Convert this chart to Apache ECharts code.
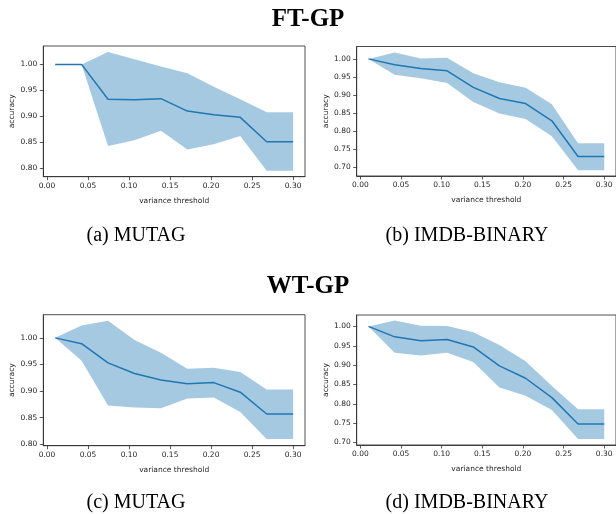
<!DOCTYPE html>
<html>
<head>
<meta charset="utf-8">
<script src="https://cdn.jsdelivr.net/npm/echarts@6/dist/echarts.min.js"></script>
<style>
html,body{margin:0;padding:0;background:#fff;}
#chart{width:616px;height:514px;}
</style>
</head>
<body>
<div id="chart"></div>
<script>
// ---- data ----
var xVals = [0.01, 0.0422, 0.0744, 0.1067, 0.1389, 0.1711, 0.2033, 0.2356, 0.2678, 0.30];
var xTicks = [0.00, 0.05, 0.10, 0.15, 0.20, 0.25, 0.30];

var aMean  = [1.0, 1.0, 0.933, 0.932, 0.934, 0.910, 0.903, 0.898, 0.851, 0.851];
var aUpper = [1.0, 1.0, 1.024, 1.010, 0.996, 0.983, 0.957, 0.933, 0.908, 0.908];
var aLower = [1.0, 1.0, 0.843, 0.854, 0.872, 0.836, 0.846, 0.862, 0.795, 0.795];
var aTicks = [0.80, 0.85, 0.90, 0.95, 1.00];

var bMean  = [1.0, 0.984, 0.973, 0.967, 0.921, 0.890, 0.876, 0.828, 0.729, 0.729];
var bUpper = [1.0, 1.018, 1.001, 1.003, 0.960, 0.935, 0.920, 0.874, 0.766, 0.766];
var bLower = [1.0, 0.956, 0.946, 0.933, 0.880, 0.848, 0.833, 0.785, 0.691, 0.691];
var bTicks = [0.70, 0.75, 0.80, 0.85, 0.90, 0.95, 1.00];

var cMean  = [1.0, 0.989, 0.953, 0.933, 0.921, 0.914, 0.916, 0.898, 0.857, 0.857];
var cUpper = [1.0, 1.023, 1.032, 0.996, 0.972, 0.942, 0.944, 0.936, 0.903, 0.903];
var cLower = [1.0, 0.957, 0.873, 0.869, 0.868, 0.886, 0.888, 0.861, 0.810, 0.810];
var cTicks = [0.80, 0.85, 0.90, 0.95, 1.00];

var dMean  = [1.0, 0.973, 0.963, 0.966, 0.947, 0.898, 0.866, 0.816, 0.748, 0.748];
var dUpper = [1.0, 1.015, 1.002, 1.001, 0.985, 0.952, 0.910, 0.846, 0.786, 0.786];
var dLower = [1.0, 0.932, 0.925, 0.932, 0.908, 0.842, 0.821, 0.784, 0.709, 0.709];
var dTicks = [0.70, 0.75, 0.80, 0.85, 0.90, 0.95, 1.00];

var titles = ['FT-GP', 'WT-GP'];
var captions = ['(a) MUTAG', '(b) IMDB-BINARY', '(c) MUTAG', '(d) IMDB-BINARY'];
var xName = 'variance threshold';
var yName = 'accuracy';

// ---- layout ----
var panels = [
  {grid:{left:43.3, top:46, width:261.7, height:130.7}, yMin:0.7836, yMax:1.0355, ticks:aTicks, mean:aMean, up:aUpper, lo:aLower},
  {grid:{left:356.7, top:46.5, width:262, height:129.5}, yMin:0.6747, yMax:1.0344, ticks:bTicks, mean:bMean, up:bUpper, lo:bLower},
  {grid:{left:43.3, top:314.7, width:261.7, height:131}, yMin:0.7975, yMax:1.0435, ticks:cTicks, mean:cMean, up:cUpper, lo:cLower},
  {grid:{left:356.7, top:315, width:262, height:130}, yMin:0.6935, yMax:1.0295, ticks:dTicks, mean:dMean, up:dUpper, lo:dLower}
];

var FONT = 'DejaVu Sans';
var TXT = '#262626';
var grids = [], xAxes = [], yAxes = [], series = [];

function fmt(v){ return Number(v).toFixed(2); }

panels.forEach(function(p, i){
  grids.push(Object.assign({show:true, borderColor:'#3a3a3a', borderWidth:0.9, backgroundColor:'transparent'}, p.grid));
  xAxes.push({
    type:'value', gridIndex:i, min:-0.0045, max:0.3145,
    name:xName, nameLocation:'middle', nameGap:20,
    nameTextStyle:{fontFamily:FONT, fontSize:7.5, color:TXT},
    axisLine:{show:true, onZero:false, lineStyle:{color:'#333', width:0.9}},
    axisTick:{show:true, length:3.5, lineStyle:{color:'#333', width:0.8}, customValues:xTicks},
    axisLabel:{fontFamily:FONT, fontSize:7.5, color:TXT, margin:5, customValues:xTicks, formatter:fmt},
    splitLine:{show:false}
  });
  yAxes.push({
    type:'value', gridIndex:i, min:p.yMin, max:p.yMax,
    name:yName, nameLocation:'middle', nameGap:27, nameRotate:90,
    nameTextStyle:{fontFamily:FONT, fontSize:7.5, color:TXT},
    axisLine:{show:true, onZero:false, lineStyle:{color:'#333', width:0.9}},
    axisTick:{show:true, length:3.5, lineStyle:{color:'#333', width:0.8}, customValues:p.ticks},
    axisLabel:{fontFamily:FONT, fontSize:7.5, color:TXT, margin:6, customValues:p.ticks, formatter:fmt},
    splitLine:{show:false}
  });
  // shaded band: one polygon through upper values then lower values reversed
  series.push({
    type:'custom', xAxisIndex:i, yAxisIndex:i, silent:true, z:1,
    data:[[xVals[0], p.lo[0]]],
    renderItem:(function(pp){
      return function(params, api){
        var pts = [];
        for (var k = 0; k < xVals.length; k++) pts.push(api.coord([xVals[k], pp.up[k]]));
        for (var k2 = xVals.length - 1; k2 >= 0; k2--) pts.push(api.coord([xVals[k2], pp.lo[k2]]));
        return {type:'polygon', shape:{points:pts}, style:{fill:'rgba(31,119,180,0.4)', stroke:null}};
      };
    })(p)
  });
  series.push({
    type:'line', xAxisIndex:i, yAxisIndex:i, symbol:'none', silent:true, z:3,
    lineStyle:{color:'#1f77b4', width:1.5},
    data:xVals.map(function(x, k){ return [x, p.mean[k]]; })
  });
});

var graphics = [
  {type:'text', x:308, y:19.5, style:{text:titles[0], font:'bold 25px "Liberation Serif"', fill:'#000', textAlign:'center', textVerticalAlign:'middle'}},
  {type:'text', x:308, y:286.5, style:{text:titles[1], font:'bold 25px "Liberation Serif"', fill:'#000', textAlign:'center', textVerticalAlign:'middle'}},
  {type:'text', x:136, y:236, style:{text:captions[0], font:'20px "Liberation Serif"', fill:'#000', textAlign:'center', textVerticalAlign:'middle'}},
  {type:'text', x:467, y:236, style:{text:captions[1], font:'20px "Liberation Serif"', fill:'#000', textAlign:'center', textVerticalAlign:'middle'}},
  {type:'text', x:136, y:503, style:{text:captions[2], font:'20px "Liberation Serif"', fill:'#000', textAlign:'center', textVerticalAlign:'middle'}},
  {type:'text', x:467, y:503, style:{text:captions[3], font:'20px "Liberation Serif"', fill:'#000', textAlign:'center', textVerticalAlign:'middle'}}
];

var chart = echarts.init(document.getElementById('chart'), null, {renderer:'canvas'});
chart.setOption({
  animation:false,
  backgroundColor:'#fff',
  grid:grids, xAxis:xAxes, yAxis:yAxes, series:series,
  graphic:graphics
});
</script>
</body>
</html>
